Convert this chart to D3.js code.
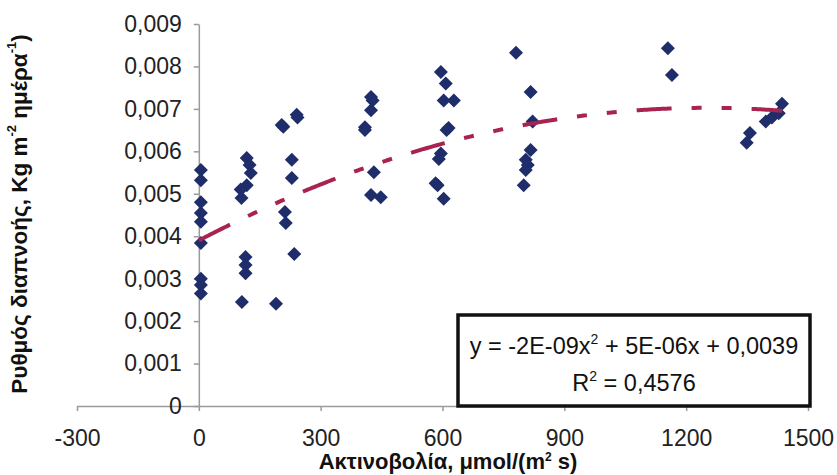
<!DOCTYPE html>
<html><head><meta charset="utf-8">
<script src="https://cdn.jsdelivr.net/npm/d3@7"></script>
<style>body{margin:0;background:#fff}svg{display:block}text{font-family:"Liberation Sans",Arial,sans-serif}</style>
</head><body>
<script>
// Data
const radiation = [5,5,5,5,5,5,5,5,5,
  118,125,128,118,103,105,115,115,115,106,190,
  204,208,241,243,229,229,212,214,235,
  424,428,424,409,409,431,424,448,
  596,608,603,628,615,610,596,591,583,588,603,
  781,817,822,817,805,810,805,800,
  1155,1165,
  1357,1349,1396,1411,1428,1436];
const transpiration = [0.00556,0.00532,0.00480,0.00455,0.00434,0.00384,0.00300,0.00285,0.00265,
  0.00584,0.00568,0.00549,0.00520,0.00510,0.00490,0.00351,0.00332,0.00313,0.00245,0.00241,
  0.00662,0.00658,0.00686,0.00680,0.00580,0.00537,0.00457,0.00431,0.00358,
  0.00728,0.00720,0.00697,0.00657,0.00650,0.00551,0.00497,0.00492,
  0.00787,0.00760,0.00720,0.00720,0.00655,0.00650,0.00595,0.00582,0.00525,0.00520,0.00488,
  0.00832,0.00740,0.00670,0.00603,0.00580,0.00568,0.00556,0.00520,
  0.00843,0.00780,
  0.00643,0.00620,0.00670,0.00680,0.00690,0.00712];
const xTicks = [-300,0,300,600,900,1200,1500];
const yTicks = [0,0.001,0.002,0.003,0.004,0.005,0.006,0.007,0.008,0.009];
const trendCoef = [-2e-9, 5e-6, 0.0039]; // displayed equation
const trendRange = [0, 1436];
const equationText = ["y = -2E-09x", "2", " + 5E-06x + 0,0039"];
const r2Text = ["R", "2", " = 0,4576"];

const W=837,H=475;
const svg=d3.select("body").append("svg").attr("width",W).attr("height",H);
const x=d3.scaleLinear().domain([-300,1500]).range([77,808]);
const y=d3.scaleLinear().domain([0,0.009]).range([406,24]);
const fmt=d=>d3.format(".3f")(d).replace(".",",");
const axisCol="#9a9a9a";

// x axis at y=0
const gx=svg.append("g").attr("transform",`translate(0,${y(0)})`)
  .call(d3.axisBottom(x).tickValues(xTicks).tickSize(5).tickSizeOuter(0).tickPadding(19).tickFormat(d=>d));
gx.select(".domain").attr("stroke",axisCol).attr("stroke-width",1.5);
gx.selectAll(".tick line").attr("stroke",axisCol).attr("stroke-width",1.5);
gx.selectAll(".tick text").attr("font-size",23).attr("fill","#222").attr("font-family","Liberation Sans, Arial");

// y axis at x=0
const gy=svg.append("g").attr("transform",`translate(${x(0)},0)`)
  .call(d3.axisLeft(y).tickValues(yTicks).tickSize(5).tickSizeOuter(0).tickPadding(12).tickFormat(d=>d===0?"0":fmt(d)));
gy.select(".domain").attr("stroke",axisCol).attr("stroke-width",1.5);
gy.selectAll(".tick line").attr("stroke",axisCol).attr("stroke-width",1.5);
gy.selectAll(".tick text").attr("font-size",23).attr("fill","#222").attr("font-family","Liberation Sans, Arial");

// points
const pts=radiation.map((r,i)=>[r,transpiration[i]]);
svg.append("g").selectAll("path").data(pts).join("path")
  .attr("transform",d=>`translate(${x(d[0])},${y(d[1])})`)
  .attr("d",d3.symbol(d3.symbolDiamond2, 125))
  .attr("fill","#1f2d6b");

// trend line
const tx=d3.range(trendRange[0],trendRange[1]+1,4);
const line=d3.line().x(d=>x(d)).y(d=>y(trendCoef[0]*d*d+trendCoef[1]*d+trendCoef[2]));
svg.append("path").datum(tx).attr("d",line).attr("fill","none")
  .attr("stroke","#a8244f").attr("stroke-width",4).attr("stroke-dasharray","35,20,10,20,10,20");

// equation box
svg.append("rect").attr("x",458).attr("y",315).attr("width",352).attr("height",91)
  .attr("fill","#fff").attr("stroke","#111").attr("stroke-width",3.5);
function supText(parts,cx,cy){
  const t=svg.append("text").attr("x",cx).attr("y",cy).attr("text-anchor","middle").attr("font-size",23.5).attr("fill","#111");
  t.append("tspan").text(parts[0]);
  t.append("tspan").attr("dy",-10).attr("font-size",14).text(parts[1]);
  t.append("tspan").attr("dy",10).text(parts[2]);
}
supText(equationText,634,354);
supText(r2Text,634,391);

// axis titles
const xl=svg.append("text").attr("x",448).attr("y",469).attr("text-anchor","middle")
  .attr("font-size",22).attr("font-weight","bold").attr("fill","#111");
xl.append("tspan").text("Ακτινοβολία, μmol/(m");
xl.append("tspan").attr("dy",-8).attr("font-size",12).text("2");
xl.append("tspan").attr("dy",8).text(" s)");

const yl=svg.append("text").attr("transform","translate(27,214) rotate(-90)").attr("text-anchor","middle")
  .attr("font-size",22.5).attr("font-weight","bold").attr("fill","#111");
yl.append("tspan").text("Ρυθμός διαπνοής, Kg m");
yl.append("tspan").attr("dy",-11).attr("font-size",13).text("-2");
yl.append("tspan").attr("dy",11).text(" ημέρα");
yl.append("tspan").attr("dy",-11).attr("font-size",13).text("-1");
yl.append("tspan").attr("dy",11).text(")");
</script>
</body></html>
